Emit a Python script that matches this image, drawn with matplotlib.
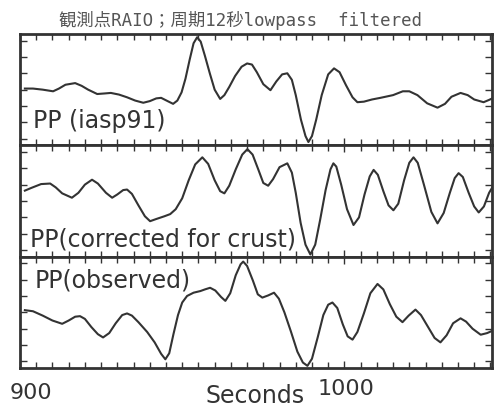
import matplotlib
matplotlib.use("Agg")
import matplotlib.pyplot as plt
from matplotlib.ticker import MultipleLocator, FixedLocator
from matplotlib.transforms import ScaledTranslation

# Waveform samples (time in s, relative amplitude)
t_iasp = [901.5, 904, 907, 910.2, 912, 914, 917.0, 919, 921, 923.8,
          926, 928, 930.5, 933.0, 935.5, 938.0, 940, 942, 943.5, 945.5,
          947.2, 948.5, 949.8, 951, 952.3, 953.5, 954.6, 955.7, 957, 958.5,
          960, 961.7, 963, 964.5, 966.3, 968.3, 970, 971.5, 973, 975,
          977.2, 979, 980.8, 982.4, 983.8, 985, 986.6, 988, 988.9, 990,
          991.3, 993, 995, 996.8, 998.5, 1000.5, 1002.5, 1004.0, 1006, 1008.5,
          1011.1, 1015, 1018, 1020, 1022.5, 1025.5, 1028.7, 1031, 1033, 1035.8,
          1038, 1040, 1042.9, 1044.5, 1046.3]
a_iasp = [0.02, 0.02, 0.0, -0.03, 0.02, 0.09, 0.12, 0.07, 0.0, -0.08,
          -0.07, -0.06, -0.09, -0.14, -0.20, -0.24, -0.21, -0.16, -0.15, -0.21,
          -0.26, -0.20, -0.05, 0.20, 0.55, 0.85, 0.96, 0.88, 0.62, 0.30,
          0.0, -0.17, -0.10, 0.05, 0.25, 0.42, 0.48, 0.46, 0.32, 0.10,
          -0.01, 0.15, 0.28, 0.30, 0.18, -0.10, -0.55, -0.85, -0.96, -0.85,
          -0.55, -0.10, 0.28, 0.39, 0.32, 0.08, -0.14, -0.23, -0.22, -0.18,
          -0.15, -0.10, -0.03, -0.03, -0.10, -0.25, -0.33, -0.26, -0.13, -0.06,
          -0.10, -0.18, -0.23, -0.19, -0.14]

t_crust = [901.5, 903.5, 906.5, 909.3, 911, 913, 916.0, 918, 920, 922.2,
           924, 926.5, 928.4, 930, 931.8, 933.0, 934.5, 936.5, 938.5, 940.1,
           942, 944.5, 946.3, 948, 950, 952, 954, 956.2, 958, 960,
           961.7, 963.0, 964.5, 966.5, 968.5, 970.1, 971.7, 973.5, 975, 976.5,
           978, 980, 982.4, 983.8, 985, 986.5, 988, 989.5, 991, 992.5,
           994.2, 995.7, 996.6, 997.5, 999, 1000.8, 1002.8, 1004.5, 1006.2, 1007.8,
           1009.0, 1010.3, 1012, 1013.6, 1015.1, 1016.6, 1018.4, 1020, 1021.3, 1022.6,
           1024.5, 1026.8, 1028.7, 1030.6, 1032.5, 1034, 1035.2, 1036.5, 1038.3, 1040,
           1041.4, 1043, 1044.6, 1046.3]
a_crust = [0.19, 0.24, 0.31, 0.32, 0.25, 0.14, 0.06, 0.15, 0.30, 0.39,
           0.32, 0.15, 0.06, 0.12, 0.20, 0.21, 0.13, -0.08, -0.28, -0.37,
           -0.33, -0.28, -0.24, -0.15, 0.05, 0.38, 0.67, 0.80, 0.68, 0.38,
           0.18, 0.14, 0.28, 0.58, 0.85, 0.95, 0.85, 0.57, 0.33, 0.28,
           0.40, 0.62, 0.69, 0.52, 0.15, -0.40, -0.80, -0.98, -0.80, -0.35,
           0.20, 0.58, 0.69, 0.63, 0.30, -0.15, -0.44, -0.30, 0.12, 0.45,
           0.57, 0.48, 0.18, -0.08, -0.17, -0.05, 0.38, 0.70, 0.80, 0.70,
           0.30, -0.20, -0.41, -0.22, 0.15, 0.42, 0.51, 0.44, 0.15, -0.10,
           -0.21, -0.10, 0.15, 0.32]

t_obs = [901.5, 904, 907, 910, 913.0, 915, 917, 918.5, 920, 922,
         924, 925.6, 927.5, 929.5, 931.5, 933.0, 934.5, 936.5, 939.2, 941.5,
         943.5, 944.8, 946, 947.3, 948.7, 950, 951.5, 953.5, 955.6, 957,
         958.6, 960.2, 962, 963.3, 964.8, 966.5, 968, 968.8, 970, 971.8,
         973.3, 974.7, 976.5, 978.3, 979.8, 981.5, 983.5, 985.5, 987.2, 988.6,
         990, 991.8, 993.5, 995, 996.3, 997.8, 999.5, 1001, 1002.5, 1004,
         1006, 1008, 1010.2, 1012, 1014, 1016, 1017.9, 1019.8, 1021.9, 1023.6,
         1025.8, 1027.8, 1029.6, 1031.5, 1033.5, 1035.8, 1037.5, 1039.5, 1042.0, 1044,
         1046.3]
a_obs = [0.04, 0.02, -0.06, -0.15, -0.21, -0.15, -0.08, -0.07, -0.12, -0.27,
         -0.40, -0.46, -0.38, -0.20, -0.05, -0.02, -0.06, -0.18, -0.36, -0.55,
         -0.76, -0.86, -0.75, -0.40, -0.05, 0.18, 0.30, 0.36, 0.39, 0.42,
         0.45, 0.40, 0.28, 0.21, 0.35, 0.68, 0.88, 0.93, 0.85, 0.58,
         0.33, 0.27, 0.31, 0.36, 0.25, 0.0, -0.35, -0.72, -0.92, -0.98,
         -0.85, -0.45, -0.05, 0.14, 0.18, 0.08, -0.22, -0.44, -0.50, -0.36,
         -0.02, 0.35, 0.52, 0.42, 0.15, -0.08, -0.18, -0.06, 0.05, -0.05,
         -0.27, -0.47, -0.55, -0.42, -0.20, -0.11, -0.17, -0.30, -0.41, -0.38,
         -0.32]

traces = [(t_iasp, a_iasp), (t_crust, a_crust), (t_obs, a_obs)]
labels = ["PP (iasp91)", "PP(corrected for crust)", "PP(observed)"]
label_pos = [(0.027, 0.215), (0.021, 0.155), (0.032, 0.79)]

fig, axes = plt.subplots(3, 1, figsize=(4.94, 4.07), dpi=100, sharex=True)
fig.subplots_adjust(left=0.0405, right=0.996, top=0.9165, bottom=0.0958, hspace=0)

ink = "#333333"
for ax, (t, a), lab, (lx, ly) in zip(axes, traces, labels, label_pos):
    ax.plot(t, a, color=ink, lw=1.5, solid_joinstyle="round")
    ax.set_xlim(900, 1045.5)
    ax.set_ylim(-1.02, 1.02)
    ax.xaxis.set_major_locator(FixedLocator([900, 1000]))
    ax.xaxis.set_minor_locator(MultipleLocator(5))
    ax.yaxis.set_major_locator(MultipleLocator(0.3))
    ax.yaxis.set_minor_locator(MultipleLocator(0.3))
    ax.tick_params(which="both", direction="in", top=True, right=True,
                   colors=ink, width=1, labelleft=False, labelbottom=False)
    ax.tick_params(which="major", length=5)
    ax.tick_params(which="minor", length=4)
    for s in ax.spines.values():
        s.set_linewidth(2)
        s.set_color(ink)
    ax.text(lx, ly, lab, transform=ax.transAxes, fontsize=17, color=ink,
            ha="left", va="center", family="DejaVu Sans")

bot = axes[-1]
bot.tick_params(axis="x", labelbottom=True, labelsize=16, pad=9)
bot.set_xticklabels(["900", "1000"])
for lab, dx, dy in zip(bot.get_xticklabels(), [11, 2], [-2, 2]):
    lab.set_color(ink)
    lab.set_transform(lab.get_transform() + ScaledTranslation(dx / 100, dy / 100, fig.dpi_scale_trans))

fig.text(255 / 494, 1 - 396 / 407, "Seconds", fontsize=17, color=ink,
         ha="center", va="center")
fig.text(241 / 494, 1 - 20 / 407, "観測点RAIO；周期12秒lowpass  filtered",
         fontsize=12.5, color="#555555", ha="center", va="center",
         family=["DejaVu Sans Mono", "Noto Sans CJK JP"])

fig.savefig("out.png", dpi=100)
